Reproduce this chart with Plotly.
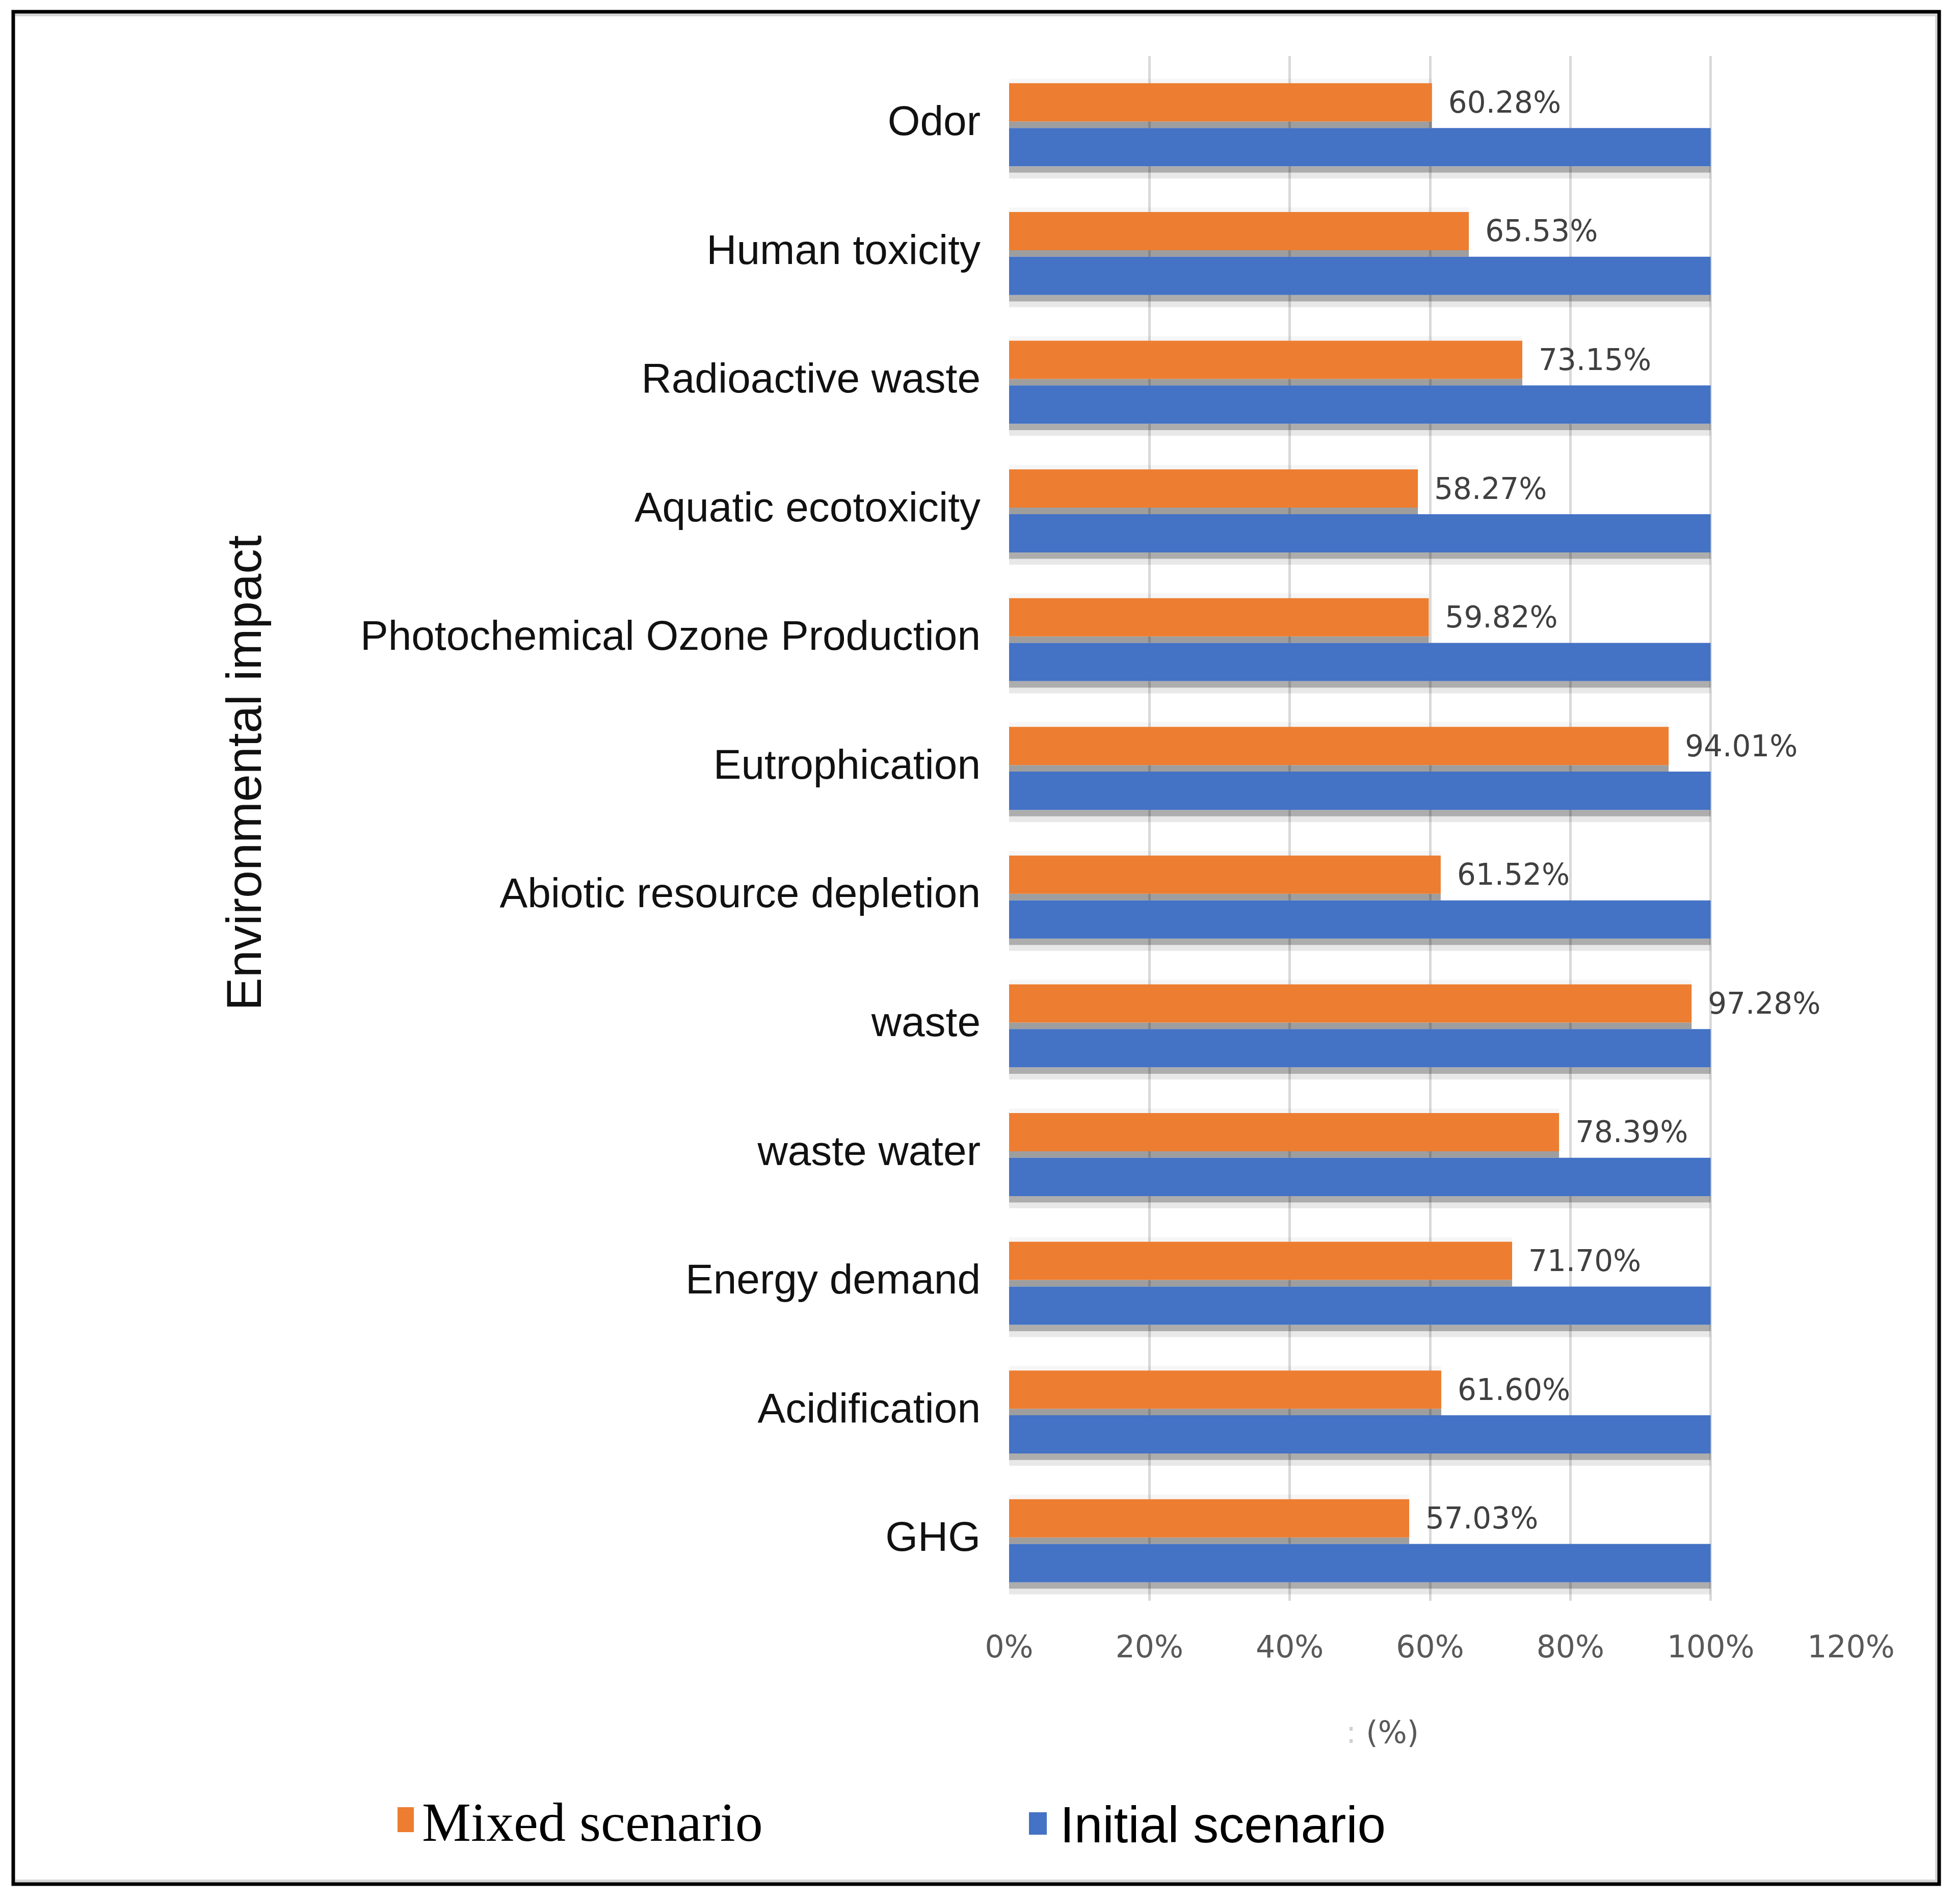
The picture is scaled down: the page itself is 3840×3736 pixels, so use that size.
import plotly.graph_objects as go

# categories listed bottom -> top (plotly puts the first category at the bottom)
impacts = ["GHG", "Acidification", "Energy demand", "waste water", "waste",
           "Abiotic resource depletion", "Eutrophication",
           "Photochemical Ozone Production", "Aquatic ecotoxicity",
           "Radioactive waste", "Human toxicity", "Odor"]
mixed = [57.03, 61.60, 71.70, 78.39, 97.28, 61.52, 94.01, 59.82, 58.27, 73.15, 65.53, 60.28]
initial = [100, 100, 100, 100, 100, 100, 100, 100, 100, 100, 100, 100]
x_ticks = [0, 20, 40, 60, 80, 100, 120]
x_tick_labels = ["0%", "20%", "40%", "60%", "80%", "100%", "120%"]

# page body has an 8px margin, so the figure is drawn 8px smaller and shifted
SHIFT = 8
W, H = 3840 - SHIFT, 3736 - SHIFT
L, T = 1980 - SHIFT, 110 - SHIFT
R = W - (3632 - SHIFT)
B = H - (3141 - SHIFT)


# reference-pixel -> paper helpers for the decorations around the plot
def px(x):
    return (x - SHIFT - L) / (W - L - R)


def py(y):
    return (H - B - (y - SHIFT)) / (H - T - B)


ORANGE = "#ED7D31"
BLUE = "#4472C4"
BAR_W = 0.297
ORANGE_OFF = -0.008
BLUE_OFF = -0.356

fig = go.Figure()

# soft shadows under the bars
shadows = [
    (mixed, ORANGE_OFF + BAR_W, 0.035, "rgba(0,0,0,0.035)"),
    (mixed, ORANGE_OFF - 0.051, 0.051, "rgba(0,0,0,0.38)"),
    (initial, BLUE_OFF - 0.05, 0.05, "rgba(0,0,0,0.32)"),
    (initial, BLUE_OFF - 0.095, 0.045, "rgba(0,0,0,0.09)"),
]
for vals, off, w, col in shadows:
    fig.add_trace(go.Bar(y=impacts, x=vals, orientation="h", offset=off, width=w,
                         marker=dict(color=col, line=dict(width=0)),
                         hoverinfo="skip", showlegend=False))

fig.add_trace(go.Bar(y=impacts, x=initial, orientation="h", name="Initial scenario",
                     offset=BLUE_OFF, width=BAR_W,
                     marker=dict(color=BLUE, line=dict(width=0)), showlegend=False))
fig.add_trace(go.Bar(y=impacts, x=mixed, orientation="h", name="Mixed scenario",
                     offset=ORANGE_OFF, width=BAR_W,
                     marker=dict(color=ORANGE, line=dict(width=0)),
                     text=["\u2002%.2f%%" % v for v in mixed],
                     textposition="outside", constraintext="none", cliponaxis=False,
                     textfont=dict(family="DejaVu Sans", size=58, color="#404040"),
                     showlegend=False))

fig.update_layout(
    width=W, height=H,
    margin=dict(l=L, r=R, t=T, b=B),
    barmode="overlay",
    plot_bgcolor="white", paper_bgcolor="white",
    showlegend=False,
)
fig.update_xaxes(range=[0, 120], tickvals=x_ticks, ticktext=x_tick_labels,
                 showgrid=True, gridcolor="#d9d9d9", gridwidth=5,
                 zeroline=False, showline=False, ticks="", ticklabelstandoff=50,
                 tickfont=dict(family="DejaVu Sans", size=60, color="#595959"))
fig.update_yaxes(showgrid=False, zeroline=False, showline=False, ticks="",
                 ticklabelstandoff=55,
                 tickfont=dict(family="Liberation Sans", size=82, color="#111111"))

# axis titles
fig.add_annotation(text="Environmental impact", textangle=-90, xref="paper", yref="paper",
                   x=px(478), y=py(1517), xanchor="center", yanchor="middle", showarrow=False,
                   font=dict(family="Liberation Sans", size=97, color="#111111"))
fig.add_annotation(text='<span style="color:#d0d0d0">:</span> (%)', xref="paper", yref="paper",
                   x=px(2712), y=py(3399), xanchor="center", yanchor="middle", showarrow=False,
                   font=dict(family="DejaVu Sans", size=60, color="#595959"))

# legend keys and labels
fig.add_shape(type="rect", xref="paper", yref="paper", x0=px(780), x1=px(812),
              y0=py(3595), y1=py(3546), fillcolor=ORANGE, line=dict(width=0))
fig.add_shape(type="rect", xref="paper", yref="paper", x0=px(2019), x1=px(2054),
              y0=py(3600), y1=py(3556), fillcolor=BLUE, line=dict(width=0))
fig.add_annotation(text="Mixed scenario", xref="paper", yref="paper",
                   x=px(826), y=py(3575), xanchor="left", yanchor="middle", showarrow=False,
                   font=dict(family="Liberation Serif", size=108, color="black"))
fig.add_annotation(text="Initial scenario", xref="paper", yref="paper",
                   x=px(2078), y=py(3580), xanchor="left", yanchor="middle", showarrow=False,
                   font=dict(family="Liberation Sans", size=100, color="black"))

# outer frame
fig.add_shape(type="path", xref="paper", yref="paper",
              path="M %f,%f L %f,%f L %f,%f L %f,%f" % (px(30), py(29), px(3800), py(29),
                                                       px(3800), py(3691), px(30), py(3691)),
              line=dict(color="#d6d6d6", width=6))
fig.add_shape(type="rect", xref="paper", yref="paper", x0=px(26), x1=px(3805),
              y0=py(3697), y1=py(23), line=dict(color="black", width=7))

fig.write_html("out.html")
